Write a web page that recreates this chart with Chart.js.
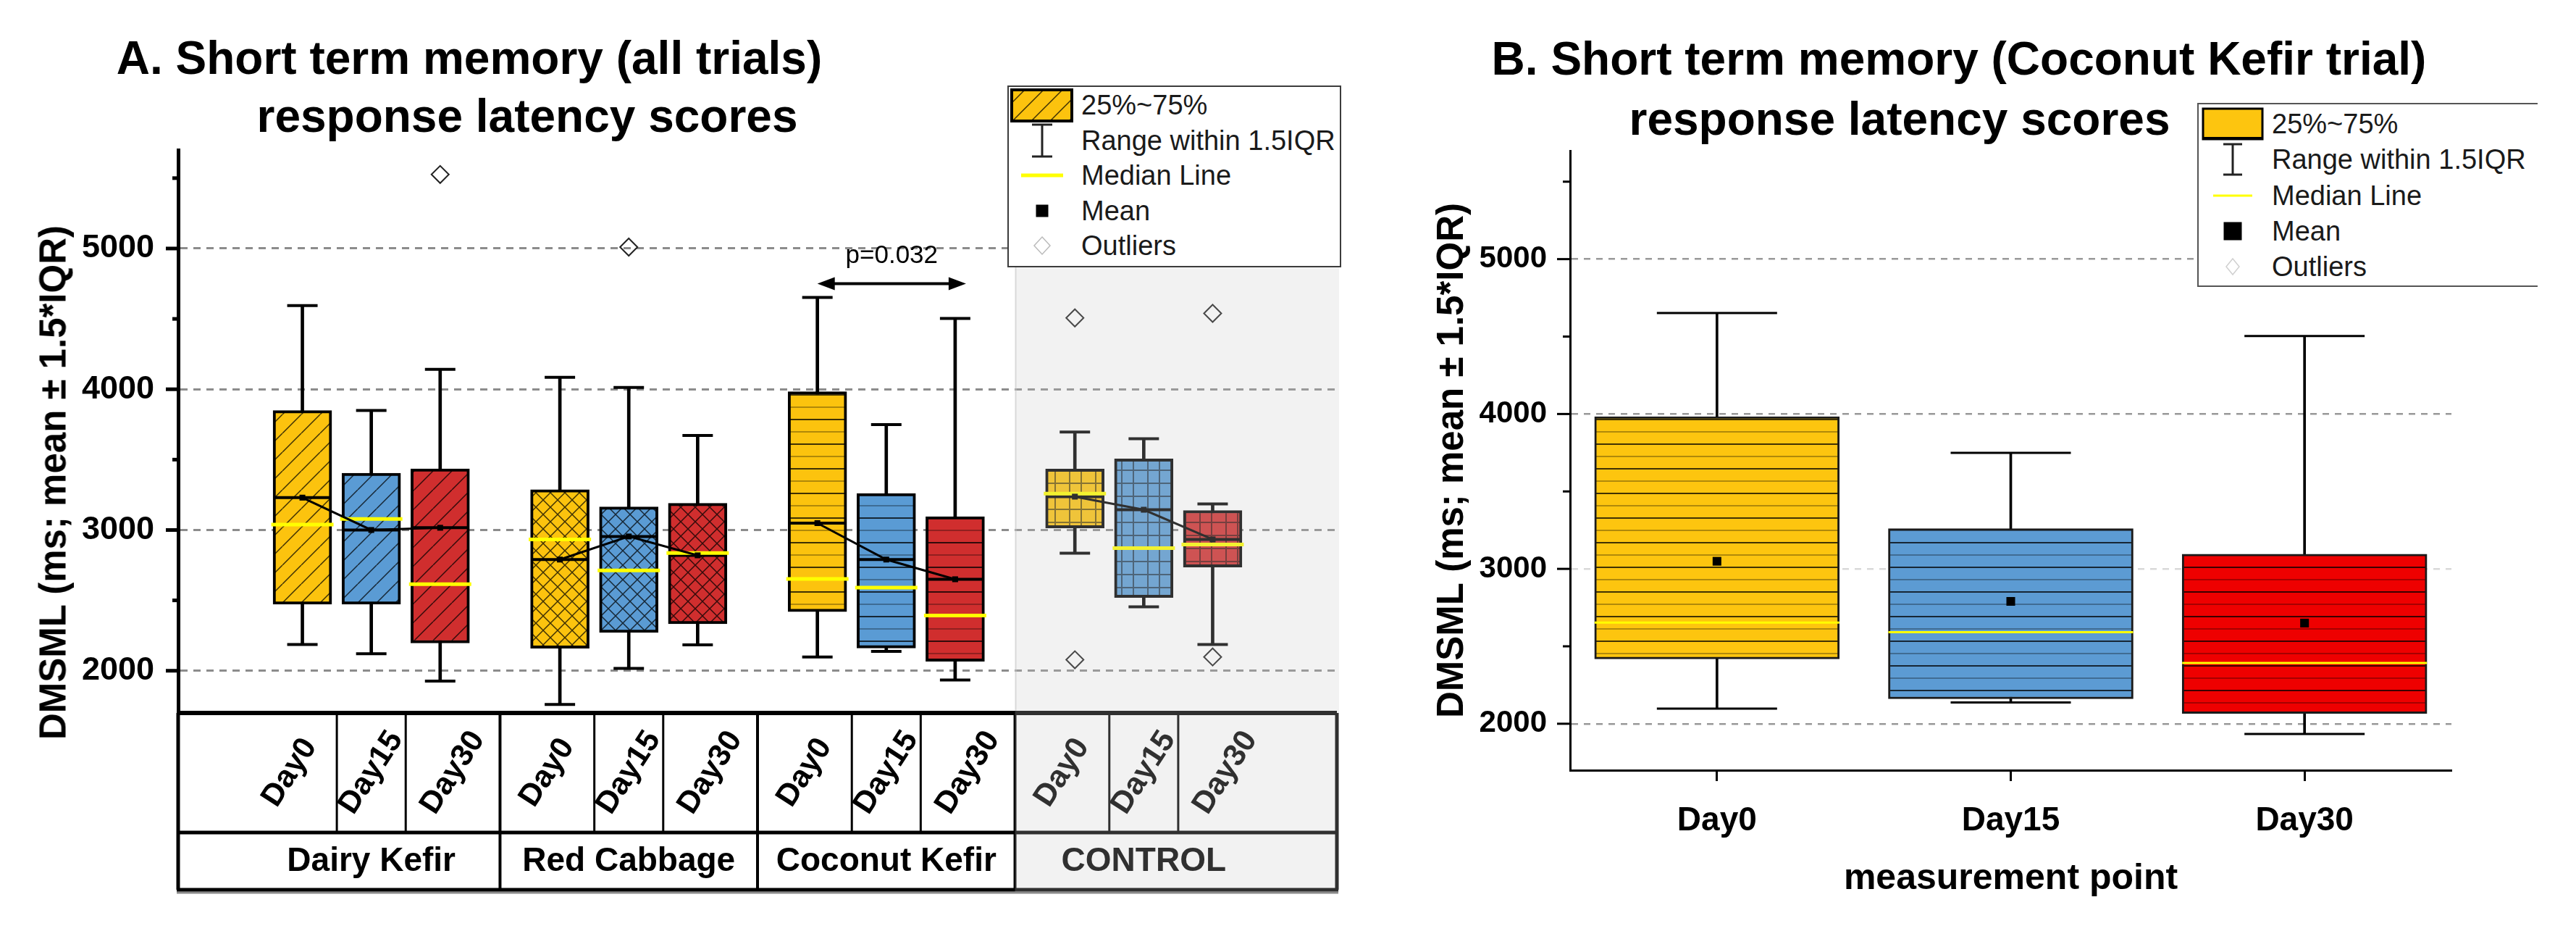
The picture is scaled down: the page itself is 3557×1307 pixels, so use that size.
<!DOCTYPE html>
<html>
<head>
<meta charset="utf-8">
<title>Short term memory - response latency scores</title>
<script src="https://cdn.jsdelivr.net/npm/chart.js@4.4.0/dist/chart.umd.min.js"></script>
<style>
  body { margin: 0; background: #fff; font-family: 'Liberation Sans', Arial, Helvetica, sans-serif; }
  #page { position: relative; width: 3557px; height: 1307px; overflow: hidden; background: #fff; }
  canvas { position: absolute; top: 0; }
  .title { position: absolute; font-size: 64px; font-weight: bold; line-height: 64px; white-space: nowrap; color: #000; transform: translateX(-50%); }
  .ytitle { position: absolute; font-size: 51px; font-weight: bold; line-height: 1; white-space: nowrap; color: #000; transform: translate(-50%, -50%) rotate(-90deg); }
  .legend { position: absolute; background: #fff; box-sizing: border-box; }
  .legend .row { position: absolute; left: 0; width: 100%; height: 48px; }
  .legend .row svg { position: absolute; left: 0; top: -1px; }
  .legend .row span { position: absolute; font-size: 38px; line-height: 48px; color: #1a1a1a; white-space: nowrap; }
</style>
</head>
<body>
<div id="page">
  <canvas id="chartA" width="1950" height="1307" style="left:0"></canvas>
  <canvas id="chartB" width="1607" height="1307" style="left:1950px"></canvas>

  <div class="title" style="left:648px;top:48px">A. Short term memory (all trials)</div>
  <div class="title" style="left:728px;top:128px">response latency scores</div>
  <div class="ytitle" style="left:73px;top:666px">DMSML (ms; mean ± 1.5*IQR)</div>

  <div class="title" style="left:2705px;top:49px">B. Short term memory (Coconut Kefir trial)</div>
  <div class="title" style="left:2623px;top:132px">response latency scores</div>

  <div class="legend" id="legendA" style="left:1391px;top:118px;width:461px;height:251px;border:2px solid #3c3c3c"></div>
  <div class="legend" id="legendB" style="left:3034px;top:142px;width:470px;height:254px;border:2px solid #555;border-right:none"></div>
</div>

<script>
// ---------- panel A: all trials ----------
const groupsA = ['Dairy Kefir', 'Red Cabbage', 'Coconut Kefir', 'CONTROL'];
const daysA = ['Day0', 'Day15', 'Day30'];
// one value per box: groups in order, Day0 / Day15 / Day30 inside each group
const whiskerLowA  = [2187, 2121, 1927, 1760, 2016, 2184, 2098, 2137, 1934, 2835, 2454, 2187];
const q1A          = [2473, 2473, 2197, 2160, 2272, 2333, 2420, 2161, 2067, 3015, 2520, 2737];
const medianA      = [3039, 3079, 2615, 2933, 2713, 2836, 2653, 2591, 2392, 3258, 2871, 2897];
const meanA        = [3230, 3000, 3016, 2790, 2954, 2820, 3049, 2790, 2650, 3237, 3144, 2933];
const q3A          = [3849, 3404, 3434, 3287, 3164, 3190, 3983, 3260, 3095, 3433, 3505, 3139];
const whiskerHighA = [4595, 3849, 4141, 4085, 4013, 3672, 4652, 3749, 4503, 3696, 3649, 3185];
const outliersA    = [[], [], [5526], [], [5010], [], [], [], [], [4507, 2078], [], [4539, 2098]];
const pLabelA = 'p=0.032';
const pPairA = [6, 8];      // Coconut Kefir Day0 -> Day30
const pLevelA = 4750;

// ---------- panel B: coconut kefir trial ----------
const daysB = ['Day0', 'Day15', 'Day30'];
const whiskerLowB  = [2098, 2137, 1934];
const q1B          = [2419, 2161, 2067];
const medianB      = [2653, 2591, 2392];
const meanB        = [3049, 2790, 2650];
const q3B          = [3983, 3260, 3095];
const whiskerHighB = [4652, 3749, 4503];

// shared y axis
const yMin = 1700, yMax = 5700;
const yTickValues = [2000, 2500, 3000, 3500, 4000, 4500, 5000, 5500];
const yLabelValues = [2000, 3000, 4000, 5000];
const legendLabels = ['25%~75%', 'Range within 1.5IQR', 'Median Line', 'Mean', 'Outliers'];

const FONT = "'Liberation Sans', Arial, Helvetica, sans-serif";
Chart.defaults.font.family = FONT;
Chart.defaults.color = '#000';

const colorsA = ['#FCC30E', '#5A9BD4', '#D02E2E'];
const colorsB = ['#FDC50F', '#5C9BD3', '#EE0000'];
const hatchA = ['diag', 'cross', 'horiz', 'grid'];

function makePattern(ctx, kind, color) {
  const sizes = { diag: [26, 26], cross: [20, 20], horiz: [10, 34], grid: [36, 36] };
  const tile = document.createElement('canvas');
  tile.width = sizes[kind][0];
  tile.height = sizes[kind][1];
  const t = tile.getContext('2d');
  t.fillStyle = color;
  t.fillRect(0, 0, tile.width, tile.height);
  t.strokeStyle = 'rgba(0,0,0,0.75)';
  t.lineWidth = 1.5;
  t.beginPath();
  if (kind === 'diag') {
    for (let k = -1; k <= 1; k++) { t.moveTo(k * 26, 26); t.lineTo(k * 26 + 26, 0); }
  } else if (kind === 'cross') {
    for (let k = -1; k <= 1; k++) {
      t.moveTo(k * 20, 20); t.lineTo(k * 20 + 20, 0);
      t.moveTo(k * 20, 0); t.lineTo(k * 20 + 20, 20);
    }
  } else if (kind === 'horiz') {
    t.lineWidth = 2;
    t.moveTo(0, 1); t.lineTo(10, 1);
  } else if (kind === 'grid') {
    t.strokeStyle = 'rgba(0,0,0,0.55)';
    t.lineWidth = 2;
    t.moveTo(0, 1); t.lineTo(36, 1); t.moveTo(0, 19); t.lineTo(36, 19);
    t.moveTo(1, 0); t.lineTo(1, 36); t.moveTo(17, 0); t.lineTo(17, 36);
  }
  t.stroke();
  if (kind === 'horiz') {
    t.strokeStyle = 'rgba(0,0,0,0.3)';
    t.beginPath(); t.moveTo(0, 18); t.lineTo(10, 18); t.stroke();
  }
  return ctx.createPattern(tile, 'repeat');
}

function strokeLine(ctx, x1, y1, x2, y2, width, color) {
  ctx.beginPath();
  ctx.lineWidth = width;
  ctx.strokeStyle = color;
  ctx.moveTo(x1, y1);
  ctx.lineTo(x2, y2);
  ctx.stroke();
}

function yTickMarks(ctx, y, left, major, minor, width) {
  y.ticks.forEach(t => {
    const py = y.getPixelForValue(t.value);
    const len = yLabelValues.includes(t.value) ? major : minor;
    strokeLine(ctx, left - len, py, left, py, width, '#000');
  });
}

function pointSet(data, style, radius, width, color, order, fill) {
  return {
    type: 'line', data, showLine: false, order, clip: false,
    pointStyle: style, pointRadius: radius, pointHoverRadius: radius, pointHitRadius: 0,
    pointBorderWidth: width, pointBorderColor: color,
    pointBackgroundColor: fill || color
  };
}

const setYTicks = s => { s.ticks = yTickValues.map(v => ({ value: v })); };
const yLabel = v => (yLabelValues.includes(v) ? String(v) : '');

// ---------- chart A ----------
const posA = [];
groupsA.forEach((g, gi) => daysA.forEach((d, di) => posA.push(gi * 4 + 2 + (di - 1) * 1.07)));
const ptsA = vals => vals.map((v, i) => ({ x: posA[i], y: v }));
const ctxA = document.getElementById('chartA').getContext('2d');
const fillsA = posA.map((p, i) => makePattern(ctxA, hatchA[Math.floor(i / 3)], colorsA[i % 3]));

const meanLinesA = groupsA.map((g, gi) => ({
  type: 'line', order: 5, clip: false,
  data: [0, 1, 2].map(di => ({ x: posA[gi * 3 + di], y: meanA[gi * 3 + di] })),
  borderColor: '#000', borderWidth: 3, pointRadius: 0, pointHitRadius: 0
}));

const tableA = {
  id: 'tableA',
  afterDraw(chart) {
    const { ctx, chartArea: area, scales: { x, y } } = chart;
    const top = area.bottom, mid = top + 165, bottom = top + 244;
    ctx.save();
    yTickMarks(ctx, y, area.left, 17, 8, 5);

    // significance arrow
    const ya = y.getPixelForValue(pLevelA);
    const xa0 = x.getPixelForValue(posA[pPairA[0]]);
    const xa1 = x.getPixelForValue(posA[pPairA[1]]) + 15;
    strokeLine(ctx, xa0 + 12, ya, xa1 - 12, ya, 4, '#000');
    ctx.fillStyle = '#000';
    [[xa0, 1], [xa1, -1]].forEach(([tip, dir]) => {
      ctx.beginPath();
      ctx.moveTo(tip, ya);
      ctx.lineTo(tip + dir * 24, ya - 9);
      ctx.lineTo(tip + dir * 24, ya + 9);
      ctx.closePath();
      ctx.fill();
    });
    ctx.font = '35px ' + FONT;
    ctx.textAlign = 'center';
    ctx.textBaseline = 'alphabetic';
    ctx.fillText(pLabelA, (xa0 + xa1) / 2, ya - 29);

    // category table under the plot
    strokeLine(ctx, area.left - 2, top, area.right, top, 6, '#000');
    strokeLine(ctx, area.left - 2, mid, area.right, mid, 5, '#000');
    strokeLine(ctx, area.left - 2, bottom + 4, area.right + 2, bottom + 4, 3, '#8a8a8a');
    strokeLine(ctx, area.left - 2, bottom, area.right + 2, bottom, 5, '#000');
    strokeLine(ctx, area.left, top, area.left, bottom, 5, '#000');
    strokeLine(ctx, area.right, top, area.right, bottom, 5, '#000');
    groupsA.forEach((g, gi) => {
      const gx0 = x.getPixelForValue(gi * 4), gx1 = x.getPixelForValue(gi * 4 + 4);
      if (gi > 0) strokeLine(ctx, gx0, top, gx0, bottom, 4, '#000');
      const edges = [gx0];
      for (let di = 0; di < 2; di++) {
        const bx = (x.getPixelForValue(posA[gi * 3 + di]) + x.getPixelForValue(posA[gi * 3 + di + 1])) / 2;
        strokeLine(ctx, bx, top, bx, mid, 3, '#000');
        edges.push(bx);
      }
      edges.push(gx1);
      ctx.fillStyle = '#000';
      ctx.font = 'bold 43px ' + FONT;
      ctx.textAlign = 'center';
      ctx.textBaseline = 'middle';
      daysA.forEach((d, di) => {
        ctx.save();
        ctx.translate((edges[di] + edges[di + 1]) / 2, (top + mid) / 2);
        ctx.rotate(-57 * Math.PI / 180);
        ctx.fillText(d, 0, 0);
        ctx.restore();
      });
      ctx.font = 'bold 46px ' + FONT;
      ctx.fillText(g, (gx0 + gx1) / 2, (mid + bottom) / 2 + 1);
    });

    // light grey shading over the control group
    const cx0 = x.getPixelForValue((groupsA.length - 1) * 4);
    ctx.fillStyle = 'rgba(200,200,200,0.24)';
    ctx.fillRect(cx0, area.top, area.right + 3 - cx0, bottom + 3 - area.top);
    strokeLine(ctx, cx0 + 1, area.top, cx0 + 1, top - 3, 2, 'rgba(200,200,200,0.6)');
    ctx.restore();
  }
};

new Chart(ctxA, {
  type: 'bar',
  data: {
    datasets: [
      { type: 'bar', order: 10, grouped: false, barThickness: 4, backgroundColor: '#000',
        data: posA.map((x, i) => ({ x, y: [whiskerLowA[i], whiskerHighA[i]] })) },
      { type: 'bar', order: 9, grouped: false, barThickness: 81, backgroundColor: fillsA,
        borderColor: '#000', borderWidth: 4, borderSkipped: false,
        data: posA.map((x, i) => ({ x, y: [q1A[i], q3A[i]] })) },
      pointSet(ptsA(whiskerLowA).concat(ptsA(whiskerHighA)), 'line', 21, 4, '#000', 8),
      pointSet(ptsA(meanA), 'line', 40, 4, '#000', 7),
      pointSet(ptsA(medianA), 'line', 43, 5, '#FFFF00', 6),
      ...meanLinesA,
      pointSet(ptsA(meanA), 'rect', 5.7, 0, '#000', 4),
      pointSet(outliersA.flatMap((arr, i) => arr.map(v => ({ x: posA[i], y: v }))),
        'rectRot', 12, 2, '#222', 3, 'rgba(0,0,0,0)')
    ]
  },
  options: {
    responsive: false, animation: false, devicePixelRatio: 1, events: [],
    layout: { padding: { left: 100, right: 104, top: 207, bottom: 323 } },
    plugins: { legend: { display: false }, tooltip: { enabled: false } },
    scales: {
      x: { type: 'linear', min: 0, max: groupsA.length * 4, display: false },
      y: {
        min: yMin, max: yMax,
        afterBuildTicks: setYTicks,
        afterFit: s => { s.width = 146; },
        border: { display: true, color: '#000', width: 5, dash: [10, 8] },
        grid: { drawTicks: false, lineWidth: 3,
          color: c => (c.tick && yLabelValues.includes(c.tick.value)) ? '#8c8c8c' : 'rgba(0,0,0,0)' },
        ticks: { autoSkip: false, padding: 33, color: '#000',
          font: { size: 45, weight: 'bold' }, callback: yLabel }
      }
    }
  },
  plugins: [tableA]
});

// ---------- chart B ----------
const ctxB = document.getElementById('chartB').getContext('2d');
const fillsB = colorsB.map(c => makePattern(ctxB, 'horiz', c));
const ptsB = vals => vals.map((v, i) => ({ x: daysB[i], y: v }));

const ticksB = {
  id: 'ticksB',
  afterDraw(chart) {
    const { ctx, chartArea: area, scales: { y } } = chart;
    ctx.save();
    yTickMarks(ctx, y, area.left, 18, 10, 3);
    ctx.restore();
  }
};

new Chart(ctxB, {
  type: 'bar',
  data: {
    labels: daysB,
    datasets: [
      { type: 'bar', order: 10, grouped: false, barThickness: 3, backgroundColor: '#000',
        data: whiskerLowB.map((v, i) => [v, whiskerHighB[i]]) },
      { type: 'bar', order: 9, grouped: false, barThickness: 338, backgroundColor: fillsB,
        borderColor: '#1a1a1a', borderWidth: 3, borderSkipped: false,
        data: q1B.map((v, i) => [v, q3B[i]]) },
      pointSet(ptsB(whiskerLowB).concat(ptsB(whiskerHighB)), 'line', 83, 3, '#000', 8),
      pointSet(ptsB(medianB), 'line', 169, 3, '#FFFF00', 6),
      pointSet(ptsB(meanB), 'rect', 8.5, 0, '#000', 4)
    ]
  },
  options: {
    responsive: false, animation: false, devicePixelRatio: 1, events: [],
    layout: { padding: { left: 25, right: 146, top: 208, bottom: 64 } },
    plugins: { legend: { display: false }, tooltip: { enabled: false } },
    scales: {
      x: {
        type: 'category', offset: true,
        afterFit: s => { s.height = 180; },
        border: { color: '#000', width: 3 },
        grid: { offset: false, drawOnChartArea: false, drawTicks: true, tickLength: 15, tickWidth: 3, tickColor: '#000' },
        ticks: { padding: 28, color: '#000', maxRotation: 0, font: { size: 46, weight: 'bold' } },
        title: { display: true, text: 'measurement point', color: '#000', padding: 0, font: { size: 50, weight: 'bold' } }
      },
      y: {
        min: yMin, max: yMax,
        afterBuildTicks: setYTicks,
        afterFit: s => { s.width = 193; },
        border: { color: '#000', width: 3, dash: [9, 8] },
        grid: { drawTicks: false, lineWidth: 2.5,
          color: c => {
            const v = c.tick ? c.tick.value : 0;
            if (!yLabelValues.includes(v)) return 'rgba(0,0,0,0)';
            return v === 3000 ? '#d9d9d9' : '#999';
          } },
        ticks: { autoSkip: false, padding: 32, color: '#000',
          font: { size: 42, weight: 'bold' }, callback: yLabel },
        title: { display: true, text: 'DMSML (ms; mean ± 1.5*IQR)', color: '#000', padding: 0, font: { size: 51, weight: 'bold' } }
      }
    }
  },
  plugins: [ticksB]
});

// ---------- legends ----------
function legendSymbol(i, cx, big) {
  const diag = '<defs><pattern id="lp' + (big ? 'B' : 'A') + '" width="26" height="26" patternUnits="userSpaceOnUse">' +
    '<rect width="26" height="26" fill="' + colorsA[0] + '"/>' +
    '<path d="M0,26 L26,0 M-13,13 L13,-13 M13,39 L39,13" stroke="rgba(0,0,0,0.75)" stroke-width="1.5"/></pattern></defs>';
  if (i === 0) {
    return big
      ? '<rect x="' + (cx - 41) + '" y="4" width="82" height="42" fill="' + colorsB[0] + '" stroke="#000" stroke-width="3"/>' +
        '<line x1="' + (cx - 41) + '" y1="45" x2="' + (cx + 41) + '" y2="45" stroke="#000" stroke-width="4"/>'
      : diag + '<rect x="' + (cx - 42) + '" y="4" width="83" height="43" fill="url(#lpA)" stroke="#000" stroke-width="4"/>';
  }
  if (i === 1) {
    const h = big ? 21 : 22, w = big ? 13 : 14;
    return '<g stroke="#222" stroke-width="3"><line x1="' + cx + '" y1="' + (25 - h) + '" x2="' + cx + '" y2="' + (25 + h) + '"/>' +
      '<line x1="' + (cx - w) + '" y1="' + (25 - h) + '" x2="' + (cx + w) + '" y2="' + (25 - h) + '"/>' +
      '<line x1="' + (cx - w) + '" y1="' + (25 + h) + '" x2="' + (cx + w) + '" y2="' + (25 + h) + '"/></g>';
  }
  if (i === 2) {
    const w = big ? 27 : 29;
    return '<line x1="' + (cx - w) + '" y1="25" x2="' + (cx + w) + '" y2="25" stroke="#FFFF00" stroke-width="' + (big ? 3 : 5) + '"/>';
  }
  if (i === 3) {
    const s = big ? 25 : 17;
    return '<rect x="' + (cx - s / 2) + '" y="' + (25 - s / 2) + '" width="' + s + '" height="' + s + '" fill="#000"/>';
  }
  const w = big ? 9 : 11, h = big ? 11 : 12;
  return '<path d="M' + cx + ',' + (25 - h) + ' L' + (cx + w) + ',25 L' + cx + ',' + (25 + h) + ' L' + (cx - w) + ',25 Z" fill="none" stroke="' + (big ? '#d0d0d0' : '#bbb') + '" stroke-width="1.5"/>';
}

function buildLegend(id, firstRow, step, cx, textX, big) {
  const box = document.getElementById(id);
  box.innerHTML = legendLabels.map((label, i) =>
    '<div class="row" style="top:' + (firstRow + i * step - 24) + 'px">' +
    '<svg width="110" height="50">' + legendSymbol(i, cx, big) + '</svg>' +
    '<span style="left:' + textX + 'px">' + label + '</span></div>').join('');
}
buildLegend('legendA', 25, 48.5, 46, 100, false);
buildLegend('legendB', 27, 49.25, 47, 101, true);
</script>
</body>
</html>
